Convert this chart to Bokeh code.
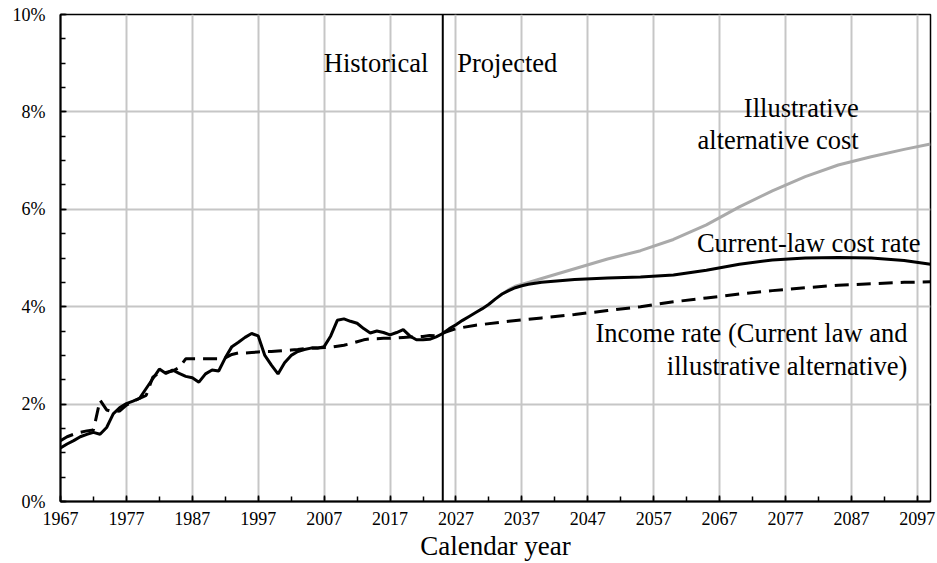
from bokeh.plotting import figure
from bokeh.models import Range1d, FixedTicker, PrintfTickFormatter, Span, Label
from bokeh.embed import file_html
from bokeh.resources import INLINE

# ---- data ----
hist_years = list(range(1967, 2025))
hist_cost = [1.10, 1.18, 1.25, 1.33, 1.38, 1.42, 1.38, 1.52, 1.80, 1.93,
             2.01, 2.06, 2.12, 2.32, 2.52, 2.72, 2.63, 2.70, 2.63, 2.57,
             2.54, 2.45, 2.62, 2.70, 2.68, 2.95, 3.18, 3.27, 3.37, 3.45,
             3.40, 3.00, 2.80, 2.62, 2.85, 3.00, 3.08, 3.12, 3.15, 3.15,
             3.18, 3.40, 3.72, 3.75, 3.70, 3.66, 3.55, 3.46, 3.50, 3.47,
             3.42, 3.47, 3.53, 3.40, 3.32, 3.32, 3.33, 3.38]
hist_income = [1.25, 1.33, 1.38, 1.42, 1.45, 1.47, 2.08, 1.88, 1.84, 1.86,
               1.98, 2.05, 2.12, 2.18, 2.55, 2.65, 2.65, 2.68, 2.75, 2.93,
               2.93, 2.93, 2.93, 2.93, 2.93, 2.95, 3.02, 3.05, 3.05, 3.06,
               3.07, 3.08, 3.08, 3.09, 3.10, 3.11, 3.12, 3.14, 3.15, 3.15,
               3.16, 3.17, 3.19, 3.21, 3.24, 3.28, 3.32, 3.34, 3.34, 3.35,
               3.35, 3.36, 3.37, 3.38, 3.38, 3.39, 3.41, 3.40]

proj_cost_years = [2025, 2026, 2027, 2028, 2029, 2030, 2031, 2032, 2033, 2034,
                   2035, 2036, 2037, 2038, 2040, 2045, 2050, 2055, 2060, 2065,
                   2070, 2075, 2080, 2085, 2090, 2095, 2099]
proj_cost = [3.45, 3.55, 3.63, 3.72, 3.80, 3.88, 3.96, 4.05, 4.16, 4.26,
             4.33, 4.39, 4.43, 4.46, 4.50, 4.56, 4.59, 4.61, 4.65, 4.75,
             4.87, 4.96, 5.00, 5.01, 5.00, 4.95, 4.87]

alt_years = [2034, 2035, 2036, 2038, 2040, 2045, 2050, 2055, 2060, 2065,
             2070, 2075, 2080, 2085, 2090, 2095, 2099]
alt_cost = [4.26, 4.35, 4.42, 4.50, 4.58, 4.78, 4.98, 5.15, 5.38, 5.68,
            6.05, 6.38, 6.67, 6.91, 7.08, 7.23, 7.34]

proj_income_years = [2025, 2027, 2030, 2035, 2040, 2045, 2050, 2055, 2060,
                     2065, 2070, 2075, 2080, 2085, 2090, 2095, 2099]
proj_income = [3.46, 3.55, 3.62, 3.70, 3.77, 3.84, 3.92, 4.00, 4.10,
               4.18, 4.26, 4.33, 4.39, 4.44, 4.47, 4.50, 4.51]

x_ticks = list(range(1967, 2098, 10))
x_minor = list(range(1967, 2100, 5))
y_ticks = [0, 2, 4, 6, 8, 10]
y_minor = [v * 0.5 for v in range(0, 21)]
boundary_year = 2025
x_label = "Calendar year"

cost_years = hist_years + proj_cost_years
cost_vals = hist_cost + proj_cost
inc_years = hist_years + proj_income_years
inc_vals = hist_income + proj_income

FONT = "Liberation Serif"

p = figure(width=937, height=563, output_backend="svg", toolbar_location=None,
           x_range=Range1d(1967, 2099), y_range=Range1d(0, 10),
           min_border_left=60, min_border_right=7, min_border_top=14,
           min_border_bottom=62)
p.background_fill_color = "white"
p.outline_line_color = "black"
p.outline_line_width = 1.5

p.xaxis.ticker = FixedTicker(ticks=x_ticks, minor_ticks=x_minor)
p.yaxis.ticker = FixedTicker(ticks=y_ticks, minor_ticks=y_minor)
p.yaxis.formatter = PrintfTickFormatter(format="%d%%")
for ax in (p.xaxis, p.yaxis):
    ax.axis_line_color = "black"
    ax.axis_line_width = 2
    ax.major_tick_in = 6
    ax.major_tick_out = 0
    ax.minor_tick_in = 5
    ax.minor_tick_out = 0
    ax.major_tick_line_color = "black"
    ax.minor_tick_line_color = "black"
    ax.major_tick_line_width = 1.5
    ax.minor_tick_line_width = 1.5
    ax.major_label_text_font = FONT
    ax.major_label_text_font_size = "18px"
    ax.major_label_text_color = "black"
p.xaxis.major_label_standoff = 10
p.yaxis.major_label_standoff = 15
p.xaxis.axis_label = x_label
p.xaxis.axis_label_text_font = FONT
p.xaxis.axis_label_text_font_size = "27px"
p.xaxis.axis_label_text_font_style = "normal"
p.xaxis.axis_label_text_color = "black"
p.xaxis.axis_label_standoff = 3

p.xgrid.ticker = FixedTicker(ticks=x_ticks)
p.ygrid.ticker = FixedTicker(ticks=y_ticks)
p.grid.grid_line_color = "#c6c6c6"
p.grid.grid_line_width = 2

p.line(inc_years, inc_vals, line_color="black", line_width=3, line_dash="14 8")
p.line(alt_years, alt_cost, line_color="#aaaaaa", line_width=3)
p.line(cost_years, cost_vals, line_color="black", line_width=3)

p.add_layout(Span(location=boundary_year, dimension="height",
                  line_color="black", line_width=2))

def lab(x, y, t, align):
    p.add_layout(Label(x=x, y=y, text=t, text_align=align, text_baseline="middle",
                       text_font=FONT, text_font_size="26.5px", text_color="black"))

lab(2022.8, 9.0, "Historical", "right")
lab(2027.2, 9.0, "Projected", "left")
lab(2088.1, 8.08, "Illustrative", "right")
lab(2088.1, 7.42, "alternative cost", "right")
lab(2097.5, 5.30, "Current-law cost rate", "right")
lab(2095.5, 3.45, "Income rate (Current law and", "right")
lab(2095.5, 2.79, "illustrative alternative)", "right")

open("out.html", "w").write(file_html(p, INLINE))
